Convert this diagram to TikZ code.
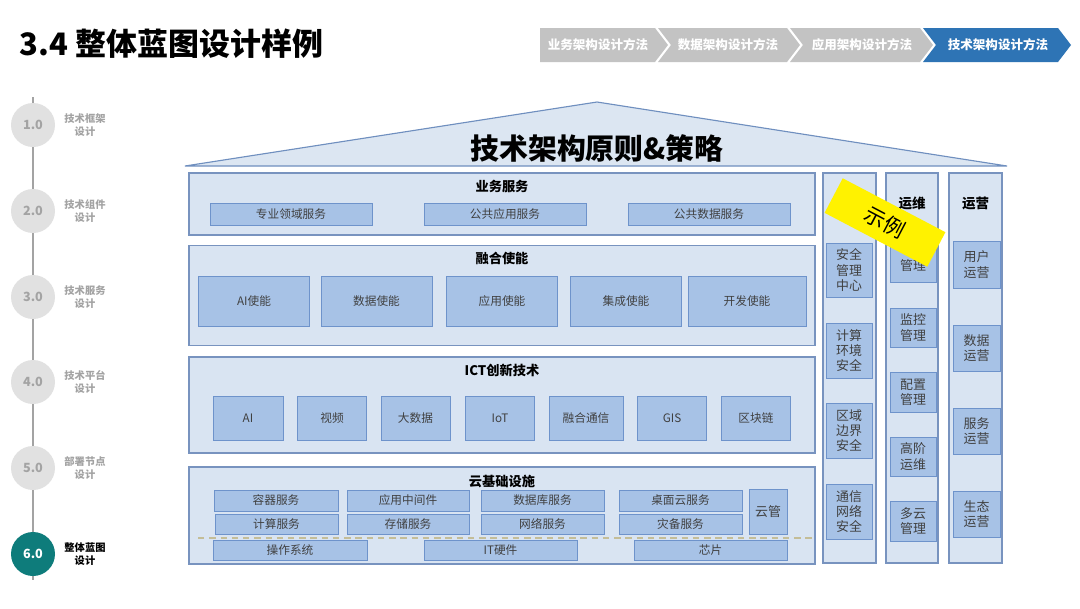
\documentclass[tikz,border=0pt]{standalone}
\usepackage{fontspec}
\setmainfont{Noto Sans CJK SC}
\usetikzlibrary{positioning}

\definecolor{panelfill}{HTML}{D9E4F2}
\definecolor{panelline}{HTML}{7893BF}
\definecolor{itemfill}{HTML}{A7C2E6}
\definecolor{itemline}{HTML}{6E93CB}
\definecolor{itemtext}{HTML}{404040}
\definecolor{rooffill}{HTML}{DCE6F2}
\definecolor{roofline}{HTML}{6F8FBF}
\definecolor{chevgray}{HTML}{C3C3C3}
\definecolor{chevblue}{HTML}{2E74B5}
\definecolor{stagefill}{HTML}{E1E1E1}
\definecolor{stagetext}{HTML}{A3A3A3}
\definecolor{stageteal}{HTML}{0E7C7B}
\definecolor{dashkhaki}{HTML}{C4BD97}

\begin{document}
\begin{tikzpicture}[
    x=0.025cm, y=-0.025cm,
    wh/.style 2 args={
        minimum width=#1*0.025cm,
        minimum height=#2*0.025cm
    },
    panel/.style={
        draw=panelline,
        fill=panelfill,
        line width=0.9pt,
        inner sep=0pt
    },
    item/.style={
        draw=itemline,
        fill=itemfill,
        line width=0.7pt,
        inner sep=0pt,
        text=itemtext,
        font=\fontsize{8.3pt}{10pt}\selectfont
    },
    sideitem/.style={
        item,
        align=center,
        font=\fontsize{9.2pt}{10.8pt}\selectfont
    },
    heading/.style={
        text=black,
        font=\bfseries\fontsize{9.4pt}{11pt}\selectfont
    },
    stage/.style={
        circle,
        fill=stagefill,
        minimum size=44*0.025cm,
        inner sep=0pt,
        text=stagetext,
        font=\bfseries\fontsize{9pt}{10pt}\selectfont
    },
    stagelabel/.style={
        align=center,
        text=stagetext,
        font=\bfseries\fontsize{7.3pt}{9.2pt}\selectfont
    },
    chevtext/.style={
        text=white,
        font=\bfseries\fontsize{8.9pt}{10pt}\selectfont
    }
]

\fill[white] (0,0) rectangle (1080,608);
\useasboundingbox (0,0) rectangle (1080,608);

% Title
\node[anchor=west, font=\bfseries\fontsize{22pt}{25pt}\selectfont] (title) at (15,44) {3.4 整体蓝图设计样例};

% Method chevrons
\fill[chevgray] (540,28) -- (655,28) -- (668,45) -- (655,62) -- (540,62) -- cycle;
\fill[chevgray] (658,28) -- (787,28) -- (800,45) -- (787,62) -- (658,62) -- (671,45) -- cycle;
\fill[chevgray] (790,28) -- (920,28) -- (933,45) -- (920,62) -- (790,62) -- (803,45) -- cycle;
\fill[chevblue] (923,28) -- (1058,28) -- (1071,45) -- (1058,62) -- (923,62) -- (936,45) -- cycle;
\node[chevtext] (m1) at (598,45) {业务架构设计方法};
\node[chevtext] (m2) at (728,45) {数据架构设计方法};
\node[chevtext] (m3) at (862,45) {应用架构设计方法};
\node[chevtext] (m4) at (998,45) {技术架构设计方法};

% Timeline
\draw[stagetext, line width=1.2pt] (33,97) -- (33,580);
\node[stage] (s1) at (33,125) {1.0};
\node[stage] (s2) at (33,211) {2.0};
\node[stage] (s3) at (33,297) {3.0};
\node[stage] (s4) at (33,382) {4.0};
\node[stage] (s5) at (33,468) {5.0};
\node[stage, fill=stageteal, text=white] (s6) at (33,554) {6.0};
\node[stagelabel] (l1) at (85,125) {技术框架\\设计};
\node[stagelabel] (l2) at (85,211) {技术组件\\设计};
\node[stagelabel] (l3) at (85,297) {技术服务\\设计};
\node[stagelabel] (l4) at (85,382) {技术平台\\设计};
\node[stagelabel] (l5) at (85,468) {部署节点\\设计};
\node[stagelabel, text=black] (l6) at (85,554) {整体蓝图\\设计};

% Roof
\draw[roofline, fill=rooffill, line width=0.8pt] (185,166) -- (597,102) -- (1007,166) -- cycle;
\node[font=\bfseries\fontsize{20.5pt}{24pt}\selectfont] (principle) at (597,148) {技术架构原则\&策略};

% Business services
\node[panel, wh={626}{62}] (biz) at (502,204) {};
\node[heading] at (502,186) {业务服务};
\node[item, wh={162}{22}] (b1) at (291,214) {专业领域服务};
\node[item, wh={162}{22}] (b2) at (505,214) {公共应用服务};
\node[item, wh={162}{22}] (b3) at (709,214) {公共数据服务};

% Fusion enablement
\node[panel, wh={626}{100}] (fus) at (502,295.5) {};
\node[heading] at (502,258) {融合使能};
\node[item, wh={111}{50}] (f1) at (254,301) {AI使能};
\node[item, wh={111}{50}] (f2) at (376.5,301) {数据使能};
\node[item, wh={111}{50}] (f3) at (502,301) {应用使能};
\node[item, wh={111}{50}] (f4) at (626,301) {集成使能};
\node[item, wh={118}{50}] (f5) at (747,301) {开发使能};

% ICT innovation
\node[panel, wh={626}{96}] (ict) at (502,405) {};
\node[heading] at (502,370) {ICT创新技术};
\node[item, wh={70}{44}] (t1) at (248,418) {AI};
\node[item, wh={69}{44}] (t2) at (332,418) {视频};
\node[item, wh={69}{44}] (t3) at (415.5,418) {大数据};
\node[item, wh={69}{44}] (t4) at (500,418) {IoT};
\node[item, wh={74}{44}] (t5) at (586,418) {融合通信};
\node[item, wh={69}{44}] (t6) at (672,418) {GIS};
\node[item, wh={69}{44}] (t7) at (756,418) {区块链};

% Cloud infrastructure
\node[panel, wh={626}{97}] (cloud) at (502,515.5) {};
\node[heading] at (502,481) {云基础设施};
\node[item, wh={124}{21}] (c1) at (276,500.5) {容器服务};
\node[item, wh={122}{21}] (c2) at (408,500.5) {应用中间件};
\node[item, wh={123}{21}] (c3) at (542.5,500.5) {数据库服务};
\node[item, wh={123}{21}] (c4) at (680.5,500.5) {桌面云服务};
\node[item, wh={123}{20}] (c5) at (276.5,524) {计算服务};
\node[item, wh={122}{20}] (c6) at (408,524) {存储服务};
\node[item, wh={123}{20}] (c7) at (542.5,524) {网络服务};
\node[item, wh={123}{20}] (c8) at (680.5,524) {灾备服务};
\node[item, wh={38}{45}, font=\fontsize{9.2pt}{11pt}\selectfont] (c9) at (768,511.5) {云管};
\draw[dashkhaki, line width=1pt, dash pattern=on 4.5pt off 3.5pt] (198,538) -- (813,538);
\node[item, wh={154}{20}] (c10) at (290,550) {操作系统};
\node[item, wh={153}{20}] (c11) at (500.5,550) {IT硬件};
\node[item, wh={153}{20}] (c12) at (710.5,550) {芯片};

% Security column
\node[panel, wh={53}{390}] (sec) at (849.5,368) {};
\node[sideitem, wh={46}{54}] (sec1) at (849,270) {安全\\管理\\中心};
\node[sideitem, wh={46}{55}] (sec2) at (849,350.5) {计算\\环境\\安全};
\node[sideitem, wh={46}{55}] (sec3) at (849,430.5) {区域\\边界\\安全};
\node[sideitem, wh={46}{55}] (sec4) at (849,511.5) {通信\\网络\\安全};

% O&M column
\node[panel, wh={52}{390}] (ops) at (912,368) {};
\node[heading, font=\bfseries\fontsize{9.6pt}{11pt}\selectfont] at (912,203) {运维};
\node[sideitem, wh={46}{38}] (ops1) at (913,263.5) {\mbox{}\\管理};
\node[sideitem, wh={46}{39}] (ops2) at (913,327.5) {监控\\管理};
\node[sideitem, wh={46}{40}] (ops3) at (913,392) {配置\\管理};
\node[sideitem, wh={46}{39}] (ops4) at (913,456.5) {高阶\\运维};
\node[sideitem, wh={46}{40}] (ops5) at (913,521) {多云\\管理};

% Operation column
\node[panel, wh={53}{390}] (run) at (975.5,368) {};
\node[heading, font=\bfseries\fontsize{9.6pt}{11pt}\selectfont] at (975.5,203) {运营};
\node[sideitem, wh={47}{47}] (run1) at (976.5,264.5) {用户\\运营};
\node[sideitem, wh={47}{46}] (run2) at (976.5,348) {数据\\运营};
\node[sideitem, wh={47}{46}] (run3) at (976.5,431) {服务\\运营};
\node[sideitem, wh={47}{46}] (run4) at (976.5,514) {生态\\运营};

% Sample sticker
\node[fill=yellow, rotate=-27.7, wh={116}{39}, inner sep=0pt, font=\fontsize{15pt}{17pt}\selectfont] (sample) at (885,222.5) {示例};

\end{tikzpicture}
\end{document}
